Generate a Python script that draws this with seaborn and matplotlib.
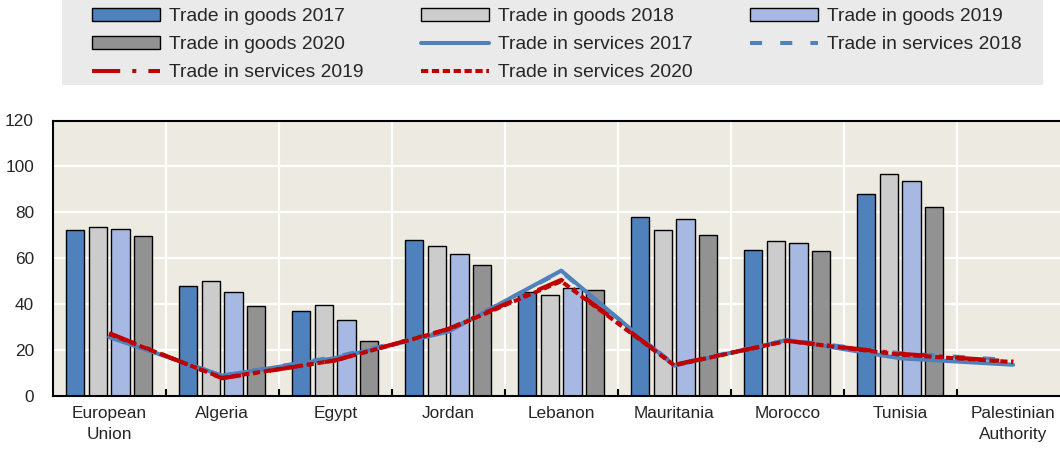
import numpy as np
import pandas as pd
import matplotlib
matplotlib.use("Agg")
import matplotlib.pyplot as plt
from matplotlib.patches import Rectangle
import seaborn as sns

# Categories (partner economies)
countries = ["European\nUnion", "Algeria", "Egypt", "Jordan", "Lebanon",
             "Mauritania", "Morocco", "Tunisia", "Palestinian\nAuthority"]

# Trade in goods, % of GDP
goods_2017 = [72.2, 47.8, 37.1, 67.9, 45.2, 77.9, 63.8, 87.8, np.nan]
goods_2018 = [73.8, 50.3, 39.8, 65.5, 44.2, 72.4, 67.6, 96.5, np.nan]
goods_2019 = [72.9, 45.5, 33.0, 61.8, 47.2, 77.2, 66.8, 93.6, np.nan]
goods_2020 = [69.9, 39.1, 24.0, 57.0, 46.1, 70.0, 63.1, 82.3, np.nan]

# Trade in services, % of GDP
services_2017 = [25.6, 8.9, 16.5, 28.0, 54.6, 13.2, 24.4, 16.4, 13.6]
services_2018 = [25.8, 8.8, 17.0, 28.4, 54.2, 13.6, 24.4, 18.6, 15.6]
services_2019 = [27.4, 7.7, 15.5, 29.2, 50.6, 13.6, 24.0, 18.4, 15.0]
services_2020 = [27.0, 7.9, 15.5, 29.0, 50.0, 13.4, 24.0, 18.0, 14.8]

goods_labels = ["Trade in goods 2017", "Trade in goods 2018",
                "Trade in goods 2019", "Trade in goods 2020"]
services_labels = ["Trade in services 2017", "Trade in services 2018",
                   "Trade in services 2019", "Trade in services 2020"]
yticks = [0, 20, 40, 60, 80, 100, 120]

goods_colors = ["#4F81BD", "#CCCCCC", "#A7B9E3", "#929292"]
services_colors = ["#4F81BD", "#4F81BD", "#C00000", "#C00000"]
services_styles = ["-", (0, (3.0, 4.5)), (0, (7, 3, 1, 3)), (0, (1.8, 0.9))]

sns.set_style("white")
plt.rcParams["font.family"] = ["Liberation Sans", "DejaVu Sans"]

W, H = 1060, 450
fig = plt.figure(figsize=(W / 100, H / 100), dpi=100)
ax = fig.add_axes([52.7 / W, 54 / H, (W - 52.7) / W, 275.5 / H])
ax.set_facecolor("#EDEBE1")

# Long-form table for the grouped bars
goods_df = pd.DataFrame({
    "country": countries * 4,
    "series": np.repeat(goods_labels, len(countries)),
    "value": goods_2017 + goods_2018 + goods_2019 + goods_2020,
})
sns.barplot(data=goods_df, x="country", y="value", hue="series",
            order=countries, hue_order=goods_labels, palette=goods_colors,
            saturation=1, width=0.8, gap=0.2, edgecolor="black",
            linewidth=1.0, errorbar=None, legend=False, ax=ax)

positions = np.arange(len(countries))
for vals, color, ls in zip([services_2017, services_2018, services_2019, services_2020],
                           services_colors, services_styles):
    sns.lineplot(x=positions, y=vals, color=color, linewidth=2.9,
                 linestyle=ls, legend=False, ax=ax)

ax.set_xlabel("")
ax.set_ylabel("")
ax.set_ylim(0, 120)
ax.set_yticks(yticks)
ax.set_xlim(-0.5, (W - 52.7) / 113.0 - 0.5)
ax.set_xticks(positions)
ax.set_xticklabels(countries, fontsize=12.4, linespacing=1.5)
ax.set_xticks(positions[:-1] + 0.5, minor=True)
ax.tick_params(axis="y", length=0, pad=13.5, labelsize=12.4)
ax.tick_params(axis="x", which="major", length=0, pad=7)
ax.tick_params(axis="x", which="minor", direction="in", length=5, width=1.5,
               color="black", bottom=True)

ax.set_axisbelow(True)
ax.grid(axis="y", which="major", color="white", linewidth=1.6)
ax.grid(axis="x", which="minor", color="white", linewidth=1.6)
ax.grid(axis="x", which="major", visible=False)

for side in ["left", "top", "bottom"]:
    ax.spines[side].set_visible(True)
    ax.spines[side].set_color("black")
    ax.spines[side].set_linewidth(1.5)
ax.spines["right"].set_visible(False)

# Legend on a grey band above the plot
fig.add_artist(Rectangle((62 / W, 1 - 85 / H), (1043 - 62) / W, 85 / H,
                         transform=fig.transFigure, facecolor="#EAEAEA",
                         edgecolor="none", zorder=0))

bar_handles = [c.patches[0] for c in ax.containers]
line_handles = list(ax.lines)[:4]
handles = bar_handles + line_handles
labels = goods_labels + services_labels
order = [0, 3, 6, 1, 4, 7, 2, 5]
fig.legend([handles[i] for i in order], [labels[i] for i in order],
           ncol=3, loc="upper left", bbox_to_anchor=(92 / W, 1 - 8 / H),
           frameon=False, fontsize=13.9, handlelength=3.5, handleheight=0.66,
           handletextpad=0.47, columnspacing=3.0, labelspacing=0.56,
           borderpad=0, borderaxespad=0)

fig.savefig("out.png", dpi=100)
